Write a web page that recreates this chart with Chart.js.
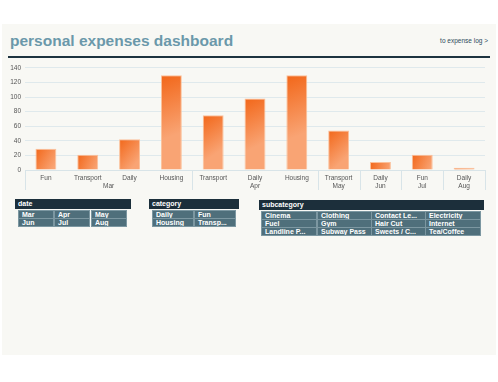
<!DOCTYPE html>
<html><head><meta charset="utf-8">
<script src="https://cdn.jsdelivr.net/npm/chart.js@4"></script>
<style>
html,body{margin:0;padding:0;background:#fff;width:498px;height:382px;overflow:hidden;font-family:"Liberation Sans",Arial,sans-serif;}
#panel{position:absolute;left:2px;top:24px;width:494px;height:331px;background:#f8f8f4;}
#title{position:absolute;left:10px;top:32px;font-size:15.5px;font-weight:bold;color:#6b98aa;white-space:nowrap;}
#link{position:absolute;right:10px;top:37px;font-size:6.5px;color:#2d4b5b;white-space:nowrap;}
#rule{position:absolute;left:8px;top:56px;width:482px;height:2px;background:#1d3340;}
#cv{position:absolute;left:8px;top:60px;}
.slicer{position:absolute;}
.slicer .hd{position:absolute;left:0;top:0;height:10px;background:#1c2f3b;color:#fff;font-size:7px;font-weight:bold;line-height:10px;padding-left:3px;box-sizing:border-box;}
.slicer .bt{position:absolute;height:7px;background:#4f6f7b;color:#fff;font-size:7px;font-weight:bold;line-height:7px;padding-left:3px;box-sizing:border-box;overflow:hidden;white-space:nowrap;box-shadow:0 0 0 1px #7c97a1;}
</style></head>
<body>
<div id="panel"></div>
<div id="title">personal expenses dashboard</div>
<div id="link">to expense log &gt;</div>
<div id="rule"></div>
<canvas id="cv" width="482" height="135" style="width:482px;height:135px"></canvas>
<div id="slicers"></div>
<script>
const months = ['Mar','Mar','Mar','Mar','Apr','Apr','Apr','May','Jun','Jul','Aug'];
const categories = ['Fun','Transport','Daily','Housing','Transport','Daily','Housing','Transport','Daily','Fun','Daily'];
const amounts = [29,21,42,130,75,98,130,54,11,21,3];
const yTicks = [0,20,40,60,80,100,120,140];

const dateItems = ['Mar','Apr','May','Jun','Jul','Aug'];
const categoryItems = ['Daily','Fun','Housing','Transp...'];
const subcategoryItems = ['Cinema','Clothing','Contact Le...','Electricity','Fuel','Gym','Hair Cut','Internet','Landline P...','Subway Pass','Sweets / C...','Tea/Coffee'];

function makeSlicer(name, items, left, top, hdW, cols, colX, colW, rowY){
  const s = document.createElement('div'); s.className='slicer';
  s.style.left=left+'px'; s.style.top=top+'px';
  const h=document.createElement('div'); h.className='hd'; h.textContent=name; h.style.width=hdW+'px'; s.appendChild(h);
  items.forEach((t,i)=>{
    const b=document.createElement('div'); b.className='bt'; b.textContent=t;
    b.style.left=colX[i%cols]+'px'; b.style.top=rowY[Math.floor(i/cols)]+'px'; b.style.width=colW+'px';
    s.appendChild(b);
  });
  document.getElementById('slicers').appendChild(s);
}
makeSlicer('date', dateItems, 15, 199, 116, 3, [4,40,77], 34, [12,20]);
makeSlicer('category', categoryItems, 149, 199, 90, 2, [4,46], 40, [12,20]);
makeSlicer('subcategory', subcategoryItems, 259, 200, 225, 4, [3,59,113,167], 54, [12,20,28]);

const groupPlugin = {
  id:'groups',
  afterDraw(chart){
    const x = chart.scales.x, ctx = chart.ctx;
    const n = months.length;
    const step = n>1 ? x.getPixelForValue(1)-x.getPixelForValue(0) : 0;
    const edge = i => x.getPixelForValue(i) - step/2;
    const top = x.top, bot = x.top + 20;
    ctx.save();
    ctx.strokeStyle = '#d8e4e8'; ctx.lineWidth = 1;
    const bounds = [0];
    for (let i=1;i<n;i++) if (months[i]!==months[i-1]) bounds.push(i);
    bounds.push(n);
    bounds.forEach(b=>{
      const px = Math.round(edge(b))+0.5;
      ctx.beginPath(); ctx.moveTo(px, top); ctx.lineTo(px, bot); ctx.stroke();
    });
    ctx.fillStyle = '#555'; ctx.font = '6.5px "Liberation Sans", Arial, sans-serif';
    ctx.textAlign='center'; ctx.textBaseline='middle';
    for (let k=0;k<bounds.length-1;k++){
      const cx = (edge(bounds[k])+edge(bounds[k+1]))/2;
      ctx.fillText(months[bounds[k]], cx, top+16);
    }
    ctx.restore();
  }
};

new Chart(document.getElementById('cv'), {
  type:'bar',
  data:{ labels: categories, datasets:[{
    data: amounts,
    backgroundColor(ctx){
      const ch = ctx.chart, xs = ch.scales.x, ys = ch.scales.y;
      if (!xs || !ys || ctx.dataIndex===undefined || !ch.chartArea) return '#f47a33';
      const cx = xs.getPixelForValue(ctx.dataIndex);
      const w = 11;
      const yt = ys.getPixelForValue(amounts[ctx.dataIndex]);
      const yb = ys.getPixelForValue(0);
      if (![cx,yt,yb].every(Number.isFinite)) return '#f47a33';
      const g = ch.ctx.createLinearGradient(cx-w, yt, cx+w, yt + (yb-yt)*0.6);
      g.addColorStop(0,'#f26618');
      g.addColorStop(1,'#f9a474');
      return g;
    },
    borderColor:'#fbc09a', borderWidth:{top:1,left:1,right:1,bottom:0},
    categoryPercentage:1, barPercentage:0.5
  }]},
  options:{
    responsive:false, animation:false, devicePixelRatio:1,
    layout:{padding:{top:7,right:5,left:0,bottom:0}},
    plugins:{legend:{display:false}, tooltip:{enabled:false}},
    scales:{
      x:{
        grid:{display:false, drawTicks:false},
        border:{display:true, color:'#d8e4e8'},
        ticks:{color:'#555', font:{size:6.5, family:'"Liberation Sans", Arial, sans-serif'}, padding:4, maxRotation:0, autoSkip:false},
        afterFit(s){ s.height = 25; }
      },
      y:{
        min:0, max:140,
        afterBuildTicks(s){ s.ticks = yTicks.map(v=>({value:v})); },
        grid:{color:'#dfe9ec', drawTicks:false},
        border:{display:false},
        ticks:{color:'#555', font:{size:6.5, family:'"Liberation Sans", Arial, sans-serif'}, padding:4},
        afterFit(s){ s.width = 17; }
      }
    }
  },
  plugins:[groupPlugin]
});
</script>
</body></html>
